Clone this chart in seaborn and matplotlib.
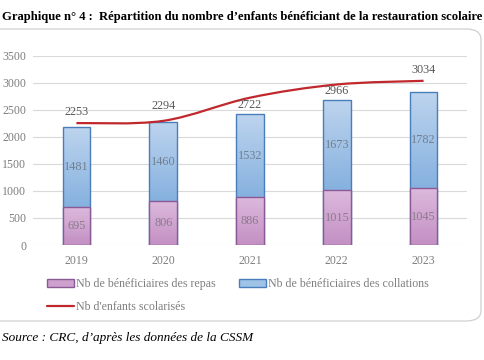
import numpy as np
import pandas as pd
import matplotlib
matplotlib.use("Agg")
import matplotlib.pyplot as plt
import seaborn as sns
from matplotlib.path import Path
from matplotlib.patches import PathPatch, FancyBboxPatch, Patch
from matplotlib.lines import Line2D
from matplotlib.colors import LinearSegmentedColormap

# ---- data ----
years = ["2019", "2020", "2021", "2022", "2023"]
repas = [695, 806, 886, 1015, 1045]
collations = [1481, 1460, 1532, 1673, 1782]
scolarises = [2253, 2294, 2722, 2966, 3034]

title = "Graphique n° 4 :  Répartition du nombre d’enfants bénéficiant de la restauration scolaire"
source = "Source : CRC, d’après les données de la CSSM"
lab_repas = "Nb de bénéficiaires des repas"
lab_coll = "Nb de bénéficiaires des collations"
lab_line = "Nb d'enfants scolarisés"

# ---- styles ----
PINK = "#cda0cd"
PINK_TOP, PINK_BOT = "#dcb9dc", "#c390c3"
PINK_EDGE = "#8a5a96"
BLUE = "#9fc3e7"
BLUE_TOP, BLUE_BOT = "#bdd4ee", "#86b1df"
BLUE_EDGE = "#4a7ebb"
RED = "#c0282d"
GRAY = "#7f7f7f"
label_dy = [11, 15, -7, -7, 11]  # px offsets of total labels from line

sns.set_theme(style="white")
plt.rcParams["font.family"] = ["Liberation Serif", "DejaVu Serif"]

fig = plt.figure(figsize=(4.85, 3.6), dpi=100)
ax = fig.add_axes([33/485, 1-245/360, (467-33)/485, (245-55.6)/360])

df = pd.DataFrame({"year": years, "repas": repas, "collations": collations,
                   "total": np.array(repas) + np.array(collations)})

sns.barplot(data=df, x="year", y="total", color=BLUE, saturation=1, width=0.32,
            edgecolor=BLUE_EDGE, linewidth=1.0, ax=ax, zorder=3)
n_blue = len(ax.patches)
sns.barplot(data=df, x="year", y="repas", color=PINK, saturation=1, width=0.32,
            edgecolor=PINK_EDGE, linewidth=1.0, ax=ax, zorder=4)

# vertical gradient fills, clipped to each bar
grad = np.linspace(0, 1, 64).reshape(-1, 1)
cm_blue = LinearSegmentedColormap.from_list("b", [BLUE_TOP, BLUE_BOT])
cm_pink = LinearSegmentedColormap.from_list("p", [PINK_TOP, PINK_BOT])
bars = list(ax.patches)
for j, p in enumerate(bars):
    x0, w = p.get_x(), p.get_width()
    if j < n_blue:
        y0, y1 = df["repas"].iloc[j], df["total"].iloc[j]
        cm, z = cm_blue, 3.1
    else:
        y0, y1 = 0, p.get_height()
        cm, z = cm_pink, 4.1
    im = ax.imshow(grad, cmap=cm, extent=(x0, x0 + w, y0, y1), origin="upper",
                   aspect="auto", zorder=z, interpolation="bilinear")
    im.set_clip_path(p)
    p.set_facecolor("none")
    p.set_zorder(z + 0.05)

# segment labels
for i in range(len(years)):
    ax.text(i, repas[i] / 2, str(repas[i]), ha="center", va="center",
            fontsize=8.8, color="#8c7a8c", zorder=6)
    ax.text(i, repas[i] + collations[i] / 2, str(collations[i]), ha="center",
            va="center", fontsize=8.8, color="#6f7f90", zorder=6)

# smoothed line (Bezier through data points)
xs = np.arange(len(years), dtype=float)
ys = np.array(scolarises, dtype=float)
pts = np.column_stack([xs, ys])
ext = np.vstack([pts[0], pts, pts[-1]])
verts = [tuple(pts[0])]
codes = [Path.MOVETO]
for k in range(len(pts) - 1):
    p0, p1, p2, p3 = ext[k], ext[k+1], ext[k+2], ext[k+3]
    c1 = p1 + (p2 - p0) / 6
    c2 = p2 - (p3 - p1) / 6
    verts += [tuple(c1), tuple(c2), tuple(p2)]
    codes += [Path.CURVE4] * 3
ax.add_patch(PathPatch(Path(verts, codes), fill=False, edgecolor=RED, lw=1.6, zorder=5))

for i in range(len(years)):
    ax.annotate(str(scolarises[i]), (i, scolarises[i]), xytext=(0, label_dy[i] * 0.72),
                textcoords="offset points", ha="center", va="center",
                fontsize=8.8, color="#595959", zorder=7)

ax.set_xlim(-0.5, 4.5)
ax.set_ylim(0, 3500)
ax.set_yticks(range(0, 3501, 500))
ax.set_xlabel("")
ax.set_ylabel("")
ax.grid(axis="y", color="#d9d9d9", lw=0.8, zorder=0)
ax.set_axisbelow(True)
for s in ax.spines.values():
    s.set_visible(False)
ax.tick_params(axis="both", length=0, labelsize=8.6, colors=GRAY)
ax.tick_params(axis="y", pad=5)
ax.tick_params(axis="x", pad=7)
ax.patch.set_alpha(0)

handles = [Patch(facecolor=PINK, edgecolor=PINK_EDGE, label=lab_repas),
           Line2D([0], [0], color=RED, lw=1.6, label=lab_line),
           Patch(facecolor=BLUE, edgecolor=BLUE_EDGE, label=lab_coll)]
leg = fig.legend(handles=handles, ncol=2, loc="upper left",
                 bbox_to_anchor=(47/485, 1-278/360), frameon=False,
                 fontsize=8.6, handlelength=2.3, handleheight=0.6,
                 handletextpad=0.15, columnspacing=1.9, labelspacing=0.95,
                 borderpad=0, borderaxespad=0)
for t in leg.get_texts():
    t.set_color(GRAY)

# chart frame
frame = FancyBboxPatch((-20/485, 1-321/360), (481+20)/485, (321-29)/360,
                       boxstyle="round,pad=0,rounding_size=0.03",
                       transform=fig.transFigure, fill=False,
                       edgecolor="#d0d0d0", lw=0.9, zorder=0)
fig.patches.append(frame)

fig.text(0.5, 1-17/360, title, ha="center", va="center", fontsize=9.1,
         fontweight="bold", color="black")
fig.text(2/485, 1-338/360, source, ha="left", va="center", fontsize=9.5,
         fontstyle="italic", color="black")

fig.savefig("out.png", dpi=100)
